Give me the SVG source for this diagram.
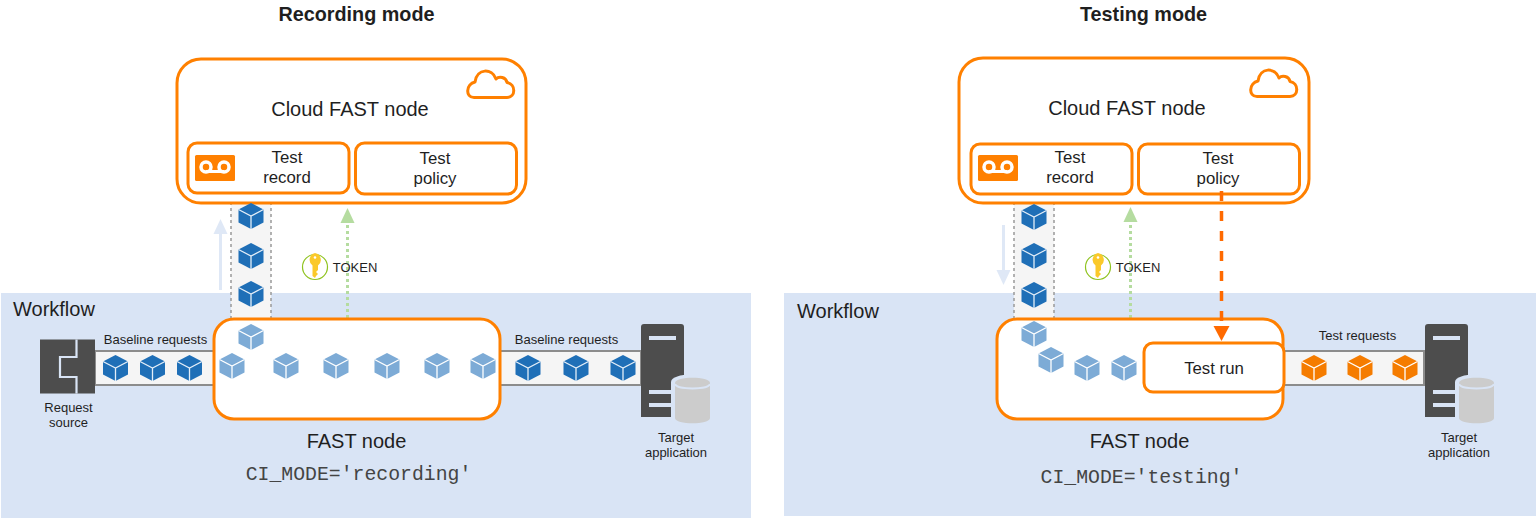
<svg xmlns="http://www.w3.org/2000/svg" width="1536" height="520" viewBox="0 0 1536 520">
<style>
text{font-family:"Liberation Sans",Arial,sans-serif;fill:#1f1f1f;text-anchor:middle}
.h{font-weight:bold;font-size:19.800px}
.big{font-size:20px}
.m{font-size:16.800px}
.s{font-size:13px}
.w{font-size:20px;text-anchor:start}
.mono{font-family:"Liberation Mono",monospace;font-size:19.800px;fill:#444}
.o{fill:#fff;stroke:#ff8000;stroke-width:3}
.band{fill:#f5f5f5;stroke:#8c8c8c;stroke-width:2}
.pan{fill:#d9e4f5}
.ch{fill:#f5f5f5}
.chd{fill:none;stroke:#999;stroke-width:1.5;stroke-dasharray:3 3}
.dk{fill:#4d4d4d}
</style>
<defs>
<g id="cube"><path d="M0-13 12.500-6.500V6.500L0 13-12.500 6.500V-6.500Z"/></g>
<g id="d"><use href="#cube" fill="#1f6fb7"/><path d="M-12.500-6.500 0 0 12.500-6.500M0 0V13" fill="none" stroke="#e4eef8" stroke-width="1.300"/></g>
<g id="l"><use href="#cube" fill="#7dabd6"/><path d="M-12.500-6.500 0 0 12.500-6.500M0 0V13" fill="none" stroke="#fff" stroke-width="1.300"/></g>
<g id="y"><use href="#cube" fill="#f57c00"/><path d="M-12.500-6.500 0 0 12.500-6.500M0 0V13" fill="none" stroke="#fff" stroke-width="1.300"/></g>
<g id="cloud"><path d="M474 97.500H507C516 97.500 516 84 507 82.500 506 77 499 76 496 79 492 68 477 68 475 82 466 84 465 97.500 474 97.500Z" fill="#fff" stroke="#ff8000" stroke-width="3" stroke-linejoin="round"/></g>
<g id="tape"><rect x="0" y="0" width="40" height="26" rx="1.500" fill="#ff8000"/><circle cx="11" cy="12" r="5" fill="none" stroke="#fff" stroke-width="3.500"/><circle cx="29" cy="12" r="5" fill="none" stroke="#fff" stroke-width="3.500"/><path d="M11 16.500H29" stroke="#fff" stroke-width="3"/></g>
<g id="key"><circle cx="0" cy="0" r="12.500" fill="#fff" stroke="#8fc31f" stroke-width="1.200"/><path d="M0-14A7 7 0 0 1 3 -1.500V3L1 5 3 7 1 9 0 11-2.500 9V-1.500A7 7 0 0 1 0-14Z" fill="#fbc92a"/><circle cx="0" cy="-9.500" r="1.300" fill="#fff"/></g>
<g id="server"><path d="M0 3Q0 0 3 0H40Q43 0 43 3V93H0Z" class="dk"/><rect x="8" y="12" width="27" height="4" fill="#d9e4f5"/><rect x="8" y="66" width="27" height="4" fill="#d9e4f5"/><rect x="8" y="79" width="27" height="4" fill="#d9e4f5"/><path d="M30 58C30 48 70 48 70 58V96C70 103 30 103 30 96Z" fill="#d9e4f5"/><path d="M34 59C34 52 69 52 69 59V94C69 101 34 101 34 94Z" fill="#ccc"/><path d="M34 60C36 66 67 66 69 60" fill="none" stroke="#d9e4f5" stroke-width="2"/></g>
</defs>

<rect class="pan" x="1" y="293" width="750" height="225"/>
<rect class="pan" x="784" y="293" width="752" height="223"/>
<text class="h" x="356.500" y="21">Recording mode</text>
<text class="h" x="1143.500" y="21">Testing mode</text>
<text class="w" x="13" y="316">Workflow</text>
<text class="w" x="797" y="318">Workflow</text>

<g id="connectors">
<path d="M220.500 290V228" stroke="#dfe8f6" stroke-width="3" fill="none"/><path d="M220.500 219l-7 15h14Z" fill="#dfe8f6"/>
<path d="M347.500 318V222" stroke="#b5dca0" stroke-width="3" stroke-dasharray="3 3" fill="none"/><path d="M347.500 208l-7 15h14Z" fill="#b5dca0"/>
<path d="M1003.500 225V275" stroke="#dfe8f6" stroke-width="3" fill="none"/><path d="M1003.500 285l-7-15h14Z" fill="#dfe8f6"/>
<path d="M1130.500 318V222" stroke="#b5dca0" stroke-width="3" stroke-dasharray="3 3" fill="none"/><path d="M1130.500 207l-7 15h14Z" fill="#b5dca0"/>
</g>

<g id="left-channels">
<rect class="ch" x="231" y="196" width="40" height="124"/><path class="chd" d="M231 196V320M271 196V320"/>
<rect class="band" x="95" y="351" width="120" height="34"/>
<rect class="band" x="500" y="351" width="141" height="34"/>
</g>
<g id="right-channels">
<rect class="ch" x="1014" y="196" width="40" height="124"/><path class="chd" d="M1014 196V320M1054 196V320"/>
<rect class="band" x="1283" y="351" width="141" height="34"/>
</g>

<g id="cloud-left">
<rect class="o" x="177" y="59" width="349" height="144" rx="24"/>
<use href="#cloud"/>
<text class="big" x="350" y="116">Cloud FAST node</text>
</g>
<g id="record-left"><rect class="o" x="188" y="143" width="161" height="50" rx="9"/><use href="#tape" x="195" y="155"/><text class="m" x="287" y="163">Test</text><text class="m" x="287" y="183">record</text></g>
<g id="policy-left"><rect class="o" x="355.500" y="143" width="161" height="51" rx="9"/><text class="m" x="435" y="164">Test</text><text class="m" x="435" y="184">policy</text></g>

<g id="cloud-right">
<rect class="o" x="959" y="58" width="350" height="145" rx="24"/>
<use href="#cloud" x="783" y="-1"/>
<text class="big" x="1127" y="115">Cloud FAST node</text>
</g>
<g id="record-right"><rect class="o" x="971" y="144" width="161" height="50" rx="9"/><use href="#tape" x="978" y="155"/><text class="m" x="1070" y="163">Test</text><text class="m" x="1070" y="183">record</text></g>
<g id="policy-right"><rect class="o" x="1138.500" y="144" width="161" height="50" rx="9"/><text class="m" x="1218" y="164">Test</text><text class="m" x="1218" y="184">policy</text></g>

<g id="fast-left"><rect class="o" x="214" y="319" width="286" height="100" rx="20"/>
<text class="big" x="356.500" y="448">FAST node</text>
<text class="mono" x="358.500" y="480">CI_MODE='recording'</text></g>
<g id="fast-right"><rect class="o" x="997" y="319" width="286" height="100" rx="20"/>
<text class="big" x="1139.500" y="448">FAST node</text>
<text class="mono" x="1141.500" y="483">CI_MODE='testing'</text></g>
<g id="testrun"><rect class="o" x="1144" y="343" width="140" height="49" rx="9"/><text class="m" x="1214" y="374">Test run</text></g>

<g id="connector-dashed">
<path d="M1221.500 191V326" stroke="#ff6a00" stroke-width="3.500" stroke-dasharray="10 10" fill="none"/><path d="M1221.500 341l-8-15h16Z" fill="#ff6a00"/>
</g>

<g id="request-source"><rect class="dk" x="40" y="339.500" width="55" height="54"/><path d="M76.500 339.500V357H60V377H76.500V393.500" fill="none" stroke="#d9e4f5" stroke-width="2.200"/><text class="s" x="68.500" y="412">Request</text><text class="s" x="68.500" y="427">source</text></g>
<g id="target-left"><use href="#server" x="641" y="324"/><text class="s" x="676" y="442">Target</text><text class="s" x="676" y="457">application</text></g>
<g id="target-right"><use href="#server" x="1425" y="324"/><text class="s" x="1459" y="442">Target</text><text class="s" x="1459" y="457">application</text></g>

<g id="labels">
<text class="s" x="155.500" y="344">Baseline requests</text>
<text class="s" x="566.500" y="344">Baseline requests</text>
<text class="s" x="1357.500" y="340">Test requests</text>
<use href="#key" x="315" y="267"/><text class="s" x="355" y="272">TOKEN</text>
<use href="#key" x="1098" y="267"/><text class="s" x="1138" y="272">TOKEN</text>
</g>

<g id="cubes-left">
<use href="#d" x="251" y="216"/><use href="#d" x="251" y="256"/><use href="#d" x="251" y="294"/>
<use href="#d" x="115.500" y="368"/><use href="#d" x="152.500" y="368"/><use href="#d" x="189.500" y="368"/>
<use href="#l" x="251" y="337"/><use href="#l" x="232" y="366"/><use href="#l" x="286" y="366"/><use href="#l" x="336" y="366"/><use href="#l" x="387" y="366"/><use href="#l" x="437" y="366"/><use href="#l" x="483" y="366"/>
<use href="#d" x="528" y="368"/><use href="#d" x="576" y="368"/><use href="#d" x="623" y="368"/>
</g>
<g id="cubes-right">
<use href="#d" x="1034" y="217"/><use href="#d" x="1034" y="256"/><use href="#d" x="1034" y="295"/>
<use href="#l" x="1034" y="334"/><use href="#l" x="1051" y="360"/><use href="#l" x="1087" y="368"/><use href="#l" x="1124" y="368"/>
<use href="#y" x="1314" y="368"/><use href="#y" x="1360" y="368"/><use href="#y" x="1405" y="368"/>
</g>
</svg>
